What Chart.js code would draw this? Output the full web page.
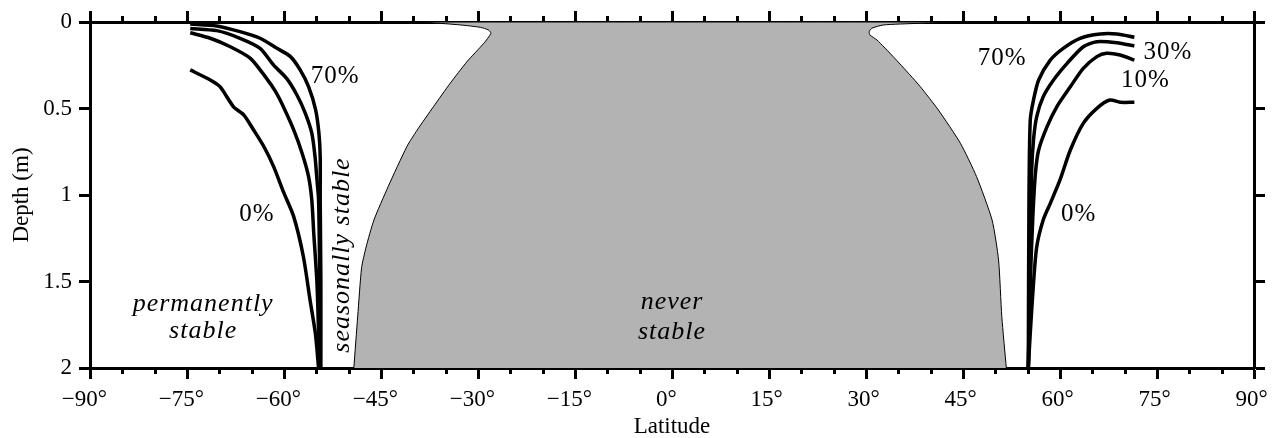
<!DOCTYPE html>
<html><head><meta charset="utf-8">
<script src="https://cdn.jsdelivr.net/npm/chart.js@4.4.1/dist/chart.umd.min.js"></script>
<style>html,body{margin:0;padding:0;background:#fff}#wrap{width:1276px;height:438px}</style>
</head><body><div id="wrap"><canvas id="c" width="1276" height="438"></canvas></div>
<script>
// ---- data: latitude (deg) / depth (m) ----
const s70Lat = [-74.5,-70.4,-66.8,-63.7,-61.1,-59.0,-57.5,-56.2,-55.1,-54.6,-54.4,-54.4,-54.3,-54.3];
const s70Depth = [0.012,0.023,0.056,0.094,0.152,0.2,0.277,0.374,0.509,0.643,0.779,1.03,1.5,2.0];
const s30Lat = [-74.5,-70.4,-66.8,-63.7,-61.6,-59.6,-58.0,-56.7,-55.7,-55.2,-54.9,-54.65,-54.5,-54.4];
const s30Depth = [0.037,0.05,0.094,0.152,0.249,0.326,0.422,0.528,0.643,0.779,0.913,1.03,1.41,2.0];
const s10Lat = [-74.5,-71.4,-68.3,-65.2,-62.9,-61.3,-60.1,-58.5,-57.2,-56.2,-55.7,-55.4,-54.9,-54.65,-54.5];
const s10Depth = [0.062,0.094,0.143,0.21,0.316,0.403,0.49,0.624,0.759,0.894,1.03,1.22,1.51,1.8,2.0];
const s0Lat = [-74.5,-71.4,-69.9,-67.8,-66.2,-64.7,-63.1,-61.6,-60.1,-58.5,-57.0,-55.96,-55.15,-54.65];
const s0Depth = [0.277,0.335,0.374,0.49,0.538,0.624,0.721,0.836,0.981,1.125,1.357,1.61,1.8,2.0];

const n70Lat = [71.5,68.8,66.2,63.1,60.5,58.5,56.7,55.9,55.4,55.2,55.1];
const n70Depth = [0.088,0.069,0.069,0.094,0.152,0.22,0.335,0.451,0.566,1.03,2.0];
const n30Lat = [71.5,68.8,65.7,63.6,61.1,59.0,57.4,56.4,55.9,55.6,55.4,55.1];
const n30Depth = [0.139,0.12,0.114,0.143,0.239,0.335,0.432,0.547,0.682,0.875,1.32,2.0];
const n10Lat = [71.5,69.3,67.2,65.7,63.6,61.6,59.5,58.0,56.7,56.2,55.8,55.4,55.1];
const n10Depth = [0.22,0.191,0.181,0.2,0.268,0.374,0.49,0.605,0.74,0.875,1.125,1.51,2.0];
const n0Lat = [71.5,69.3,67.7,65.7,63.6,61.6,60.0,58.5,57.4,56.4,55.9,55.4,55.1];
const n0Depth = [0.464,0.464,0.451,0.499,0.586,0.74,0.913,1.048,1.145,1.3,1.51,1.8,2.0];

// "never stable" region outline
const neverLat = [-49.2,-48.6,-48.0,-47.3,-46.1,-43.9,-41.0,-39.4,-36.9,-34.3,-31.7,-29.1,-28.0,-28.4,-29.6,-32.7,-37.4,-42.8,
                  43.0,37.9,32.7,30.9,30.5,30.6,31.7,34.2,36.8,38.4,41.2,44.6,47.1,49.5,50.5,51.0,51.7];
const neverDepth = [2.0,1.70,1.42,1.30,1.145,0.952,0.72,0.624,0.49,0.354,0.229,0.123,0.065,0.046,0.031,0.017,0.004,0.0,
                  0.0,0.008,0.017,0.036,0.056,0.075,0.104,0.2,0.306,0.374,0.509,0.701,0.894,1.145,1.376,1.703,2.0];

const latTicks = [-90,-75,-60,-45,-30,-15,0,15,30,45,60,75,90];
const depthTicks = [0,0.5,1,1.5,2];

const notes = [
  {t:'70%', lat:-52.1, d:0.306},
  {t:'0%', lat:-64.2, d:1.104},
  {t:'permanently', lat:-72.5, d:1.636, it:true},
  {t:'stable', lat:-72.5, d:1.78, it:true},
  {t:'seasonally stable', lat:-50.8, d:1.347, it:true, rot:true},
  {t:'never', lat:0, d:1.624, it:true},
  {t:'stable', lat:0, d:1.786, it:true},
  {t:'70%', lat:51.05, d:0.202},
  {t:'30%', lat:76.7, d:0.162},
  {t:'10%', lat:73.2, d:0.324},
  {t:'0%', lat:62.9, d:1.104}
];

const FONT = '"Liberation Serif","Times New Roman",serif';
const pts = (xs, ys) => xs.map((x,i)=>({x:x, y:ys[i]}));
const curve = (xs, ys) => ({data:pts(xs,ys), showLine:true, borderColor:'#000', borderWidth:3.5, pointRadius:0, tension:0.25, fill:false, borderJoinStyle:'round', borderCapStyle:'butt'});

// labels sit slightly left of their tick in the original; trailing spaces reproduce that offset
const fmtLat = v => (v<=0 ? (v<0 ? '\u2212'+Math.abs(v) : '0') + '\u00B0\u2002' : String(v) + '\u00B0\u2009');

const minorTicks = {
  id:'minorTicks',
  afterDraw(chart){
    const ctx = chart.ctx, xs = chart.scales.x, a = chart.chartArea;
    ctx.save(); ctx.strokeStyle='#000'; ctx.lineWidth=3;
    for (let v=-90; v<=90; v+=5){
      if (latTicks.includes(v)) continue;
      const px = Math.round(xs.getPixelForValue(v)) + 0.5;
      ctx.beginPath();
      ctx.moveTo(px, a.top); ctx.lineTo(px, a.top-6);
      ctx.moveTo(px, a.bottom); ctx.lineTo(px, a.bottom+6);
      ctx.stroke();
    }
    ctx.restore();
  }
};

const textNotes = {
  id:'textNotes',
  afterDatasetsDraw(chart){
    const ctx = chart.ctx, xs = chart.scales.x, ys = chart.scales.y;
    ctx.save();
    ctx.fillStyle = '#000';
    for (const n of notes){
      ctx.font = (n.it ? 'italic 26px ' : '25px ') + FONT;
      try { ctx.letterSpacing = '1px'; } catch(e){}
      ctx.textAlign = 'center'; ctx.textBaseline = 'alphabetic';
      const m = ctx.measureText(n.t);
      const off = (m.actualBoundingBoxAscent - m.actualBoundingBoxDescent)/2;
      const px = xs.getPixelForValue(n.lat), py = ys.getPixelForValue(n.d);
      ctx.save();
      ctx.translate(px, py);
      if (n.rot) ctx.rotate(-Math.PI/2);
      ctx.fillText(n.t, 0, off);
      ctx.restore();
    }
    ctx.restore();
  }
};

const gridOpts = {drawOnChartArea:false, drawTicks:true, tickLength:11, tickWidth:3, tickColor:'#000'};
const borderOpts = {display:true, color:'#000', width:3};
const fitH = h => s => { s.height = h; s.paddingLeft = 0; s.paddingRight = 0; };
const fitW = w => s => { s.width = w; s.paddingTop = 0; s.paddingBottom = 0; };

new Chart(document.getElementById('c'), {
  type:'scatter',
  data:{datasets:[
    curve(s70Lat,s70Depth), curve(s30Lat,s30Depth), curve(s10Lat,s10Depth), curve(s0Lat,s0Depth),
    curve(n70Lat,n70Depth), curve(n30Lat,n30Depth), curve(n10Lat,n10Depth), curve(n0Lat,n0Depth),
    {data:pts(neverLat,neverDepth), showLine:true, fill:'shape', backgroundColor:'#b3b3b3', borderColor:'#000', borderWidth:1, pointRadius:0, tension:0.2}
  ]},
  options:{
    responsive:false, animation:false,
    layout:{padding:0},
    plugins:{legend:{display:false}, tooltip:{enabled:false}},
    scales:{
      x:{type:'linear', axis:'x', position:'bottom', min:-90, max:90,
         afterBuildTicks: s => { s.ticks = latTicks.map(v=>({value:v})); },
         ticks:{autoSkip:false, maxRotation:0, padding:7, color:'#000', font:{family:FONT, size:23}, callback:v=>fmtLat(v)},
         grid:gridOpts, border:borderOpts,
         title:{display:true, text:'Latitude', color:'#000', font:{family:FONT, size:23}, padding:{top:0,bottom:-3}},
         afterFit: fitH(70)},
      xTop:{type:'linear', axis:'x', position:'top', min:-90, max:90,
         afterBuildTicks: s => { s.ticks = latTicks.map(v=>({value:v})); },
         ticks:{display:false}, grid:gridOpts, border:borderOpts,
         afterFit: fitH(22)},
      y:{type:'linear', axis:'y', position:'left', min:0, max:2, reverse:true,
         afterBuildTicks: s => { s.ticks = depthTicks.map(v=>({value:v})); },
         ticks:{padding:7, color:'#000', font:{family:FONT, size:23}, callback:v=>String(v)},
         grid:gridOpts, border:borderOpts,
         title:{display:true, text:'Depth (m)', color:'#000', font:{family:FONT, size:23}, padding:{top:8,bottom:0}},
         afterFit: fitW(90)},
      yRight:{type:'linear', axis:'y', position:'right', min:0, max:2, reverse:true,
         afterBuildTicks: s => { s.ticks = depthTicks.map(v=>({value:v})); },
         ticks:{display:false}, grid:gridOpts, border:borderOpts,
         afterFit: fitW(22)}
    }
  },
  plugins:[minorTicks, textNotes]
});
</script></body></html>
